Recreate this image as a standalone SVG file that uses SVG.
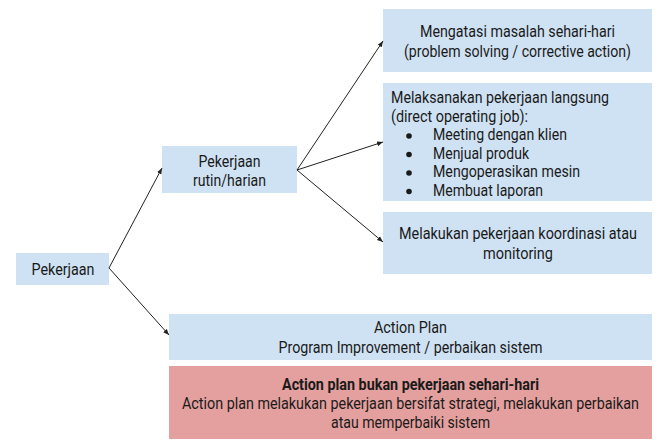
<svg xmlns="http://www.w3.org/2000/svg" width="669" height="448" viewBox="0 0 669 448">
<style>
.blue{fill:#cfe2f3}
.red{fill:#e4a09e}
text{font-family:Roboto,"Liberation Sans",sans-serif;font-size:16px;fill:#1a1a1a}
.c{text-anchor:middle}
.b{font-weight:bold}
.conn line{stroke:#222;stroke-width:1;marker-end:url(#ah)}
</style>
<defs>
<marker id="ah" viewBox="0 0 10 10" refX="10" refY="5" markerWidth="6" markerHeight="6" orient="auto" markerUnits="userSpaceOnUse">
<path d="M0,1 L10,5 L0,9 z" fill="#222"/>
</marker>
</defs>
<rect width="669" height="448" fill="#fff"/>
<g id="pekerjaan">
<rect class="blue" x="16" y="253" width="93" height="32"/>
<text class="c" x="63" y="275" textLength="63" lengthAdjust="spacingAndGlyphs">Pekerjaan</text>
</g>
<g id="rutin">
<rect class="blue" x="162" y="146" width="135" height="47"/>
<text class="c" x="229.5" y="167" textLength="62" lengthAdjust="spacingAndGlyphs">Pekerjaan</text>
<text class="c" x="229.5" y="186" textLength="73" lengthAdjust="spacingAndGlyphs">rutin/harian</text>
</g>
<g id="mengatasi">
<rect class="blue" x="383" y="9" width="269" height="63"/>
<text class="c" x="517.5" y="37" textLength="195" lengthAdjust="spacingAndGlyphs">Mengatasi masalah sehari-hari</text>
<text class="c" x="517.5" y="57" textLength="227" lengthAdjust="spacingAndGlyphs">(problem solving / corrective action)</text>
</g>
<g id="melaksanakan">
<rect class="blue" x="383" y="83" width="269" height="118"/>
<text x="391" y="103" textLength="218" lengthAdjust="spacingAndGlyphs">Melaksanakan pekerjaan langsung</text>
<text x="391" y="121.5" textLength="137" lengthAdjust="spacingAndGlyphs">(direct operating job):</text>
<circle cx="409" cy="136" r="2.8" fill="#1a1a1a"/>
<text x="433" y="140" textLength="134" lengthAdjust="spacingAndGlyphs">Meeting dengan klien</text>
<circle cx="409" cy="154.5" r="2.8" fill="#1a1a1a"/>
<text x="433" y="158.5" textLength="96" lengthAdjust="spacingAndGlyphs">Menjual produk</text>
<circle cx="409" cy="173" r="2.8" fill="#1a1a1a"/>
<text x="433" y="177" textLength="147" lengthAdjust="spacingAndGlyphs">Mengoperasikan mesin</text>
<circle cx="409" cy="191.5" r="2.8" fill="#1a1a1a"/>
<text x="433" y="195.5" textLength="110" lengthAdjust="spacingAndGlyphs">Membuat laporan</text>
</g>
<g id="koordinasi">
<rect class="blue" x="383" y="212" width="269" height="62"/>
<text class="c" x="518" y="239" textLength="238" lengthAdjust="spacingAndGlyphs">Melakukan pekerjaan koordinasi atau</text>
<text class="c" x="518" y="259" textLength="70" lengthAdjust="spacingAndGlyphs">monitoring</text>
</g>
<g id="actionplan">
<rect class="blue" x="169" y="314" width="483" height="46"/>
<text class="c" x="410.5" y="333" textLength="73" lengthAdjust="spacingAndGlyphs">Action Plan</text>
<text class="c" x="410.5" y="353" textLength="264" lengthAdjust="spacingAndGlyphs">Program Improvement / perbaikan sistem</text>
</g>
<g id="note">
<rect class="red" x="169" y="366" width="483" height="73"/>
<text class="c b" x="410.5" y="390" textLength="257" lengthAdjust="spacingAndGlyphs">Action plan bukan pekerjaan sehari-hari</text>
<text class="c" x="410.5" y="409" textLength="457" lengthAdjust="spacingAndGlyphs">Action plan melakukan pekerjaan bersifat strategi, melakukan perbaikan</text>
<text class="c" x="410.5" y="428" textLength="159" lengthAdjust="spacingAndGlyphs">atau memperbaiki sistem</text>
</g>
<g id="connectors" class="conn">
<line x1="109" y1="268" x2="162" y2="168"/>
<line x1="109" y1="268" x2="169" y2="335"/>
<line x1="297" y1="170" x2="383" y2="41"/>
<line x1="297" y1="170" x2="383" y2="142"/>
<line x1="297" y1="170" x2="383" y2="242"/>
</g>
</svg>
